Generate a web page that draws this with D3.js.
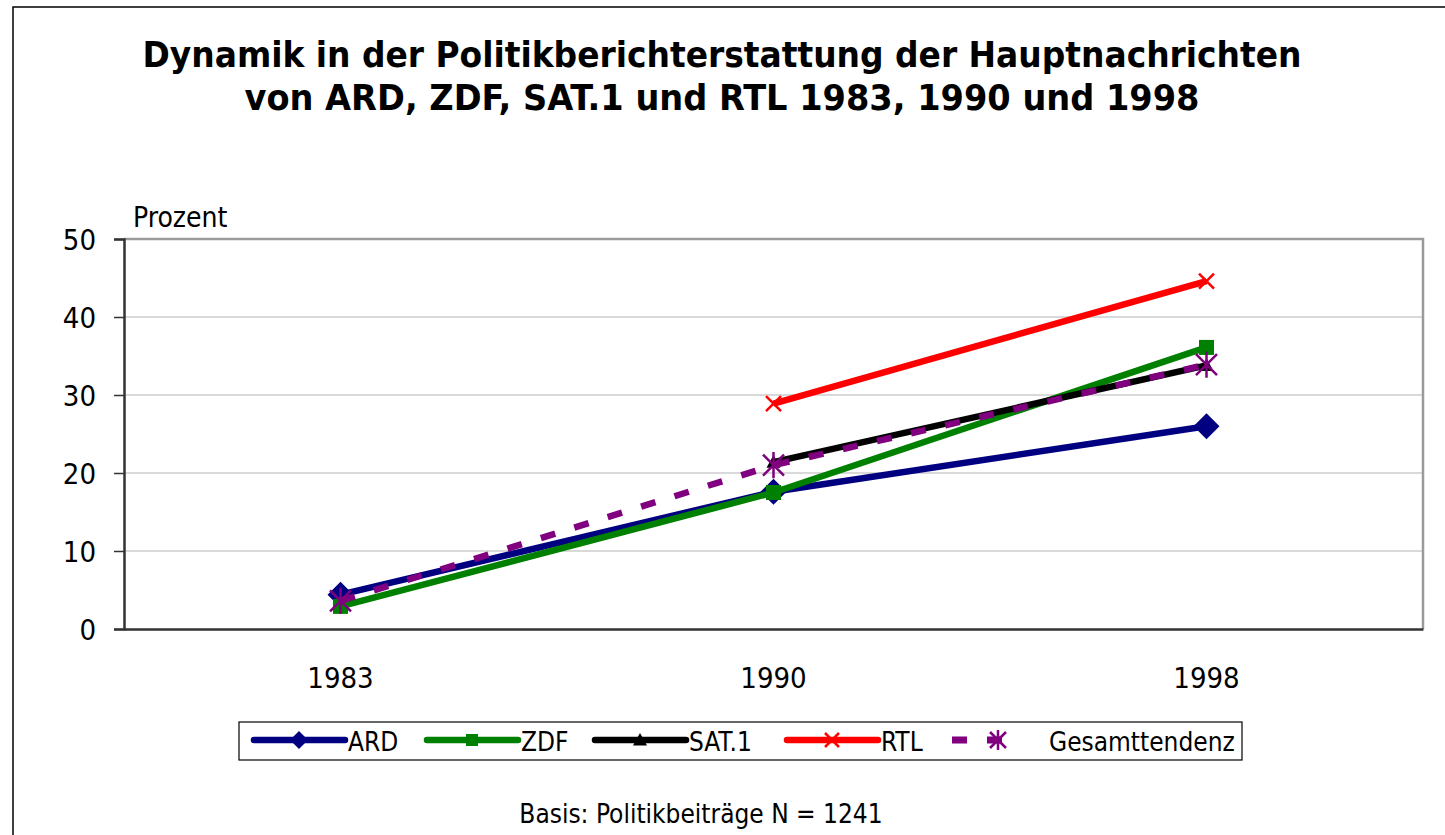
<!DOCTYPE html>
<html>
<head>
<meta charset="utf-8">
<script src="https://cdn.jsdelivr.net/npm/d3@7"></script>
<style>
  body { margin: 0; background: #fff; }
  text { font-family: Tahoma, "DejaVu Sans Condensed", "DejaVu Sans", sans-serif; fill: #000; }
</style>
</head>
<body>
<script>
// the data
var years = ["1983", "1990", "1998"];
var ard = [4.4, 17.6, 26.0];
var zdf = [2.9, 17.5, 36.1];
var sat1 = [null, 21.4, 33.8];
var rtl = [null, 28.9, 44.6];
var gesamt = [3.6, 21.0, 33.9];
var seriesNames = ["ARD", "ZDF", "SAT.1", "RTL", "Gesamttendenz"];
var yTicks = [0, 10, 20, 30, 40, 50];
var titleLines = ["Dynamik in der Politikberichterstattung der Hauptnachrichten",
                  "von ARD, ZDF, SAT.1 und RTL 1983, 1990 und 1998"];
var yLabel = "Prozent";
var footer = "Basis: Politikbeiträge N = 1241";

var W = 1445, H = 835;
var plot = {left: 124, top: 239, right: 1423, bottom: 629};

var svg = d3.select("body").append("svg")
    .attr("width", W)
    .attr("height", H);

// outer frame (runs off the right and bottom edge)
svg.append("rect")
    .attr("x", 13).attr("y", 7)
    .attr("width", 1600).attr("height", 1000)
    .attr("fill", "#fff").attr("stroke", "#000").attr("stroke-width", 1.5);

// title
svg.selectAll(".title")
    .data(titleLines)
    .enter().append("text")
    .attr("class", "title")
    .attr("x", 722)
    .attr("y", function(d, i) { return 67 + i * 43; })
    .attr("text-anchor", "middle")
    .attr("font-size", "35px")
    .attr("font-weight", "bold")
    .attr("textLength", function(d, i) { return i == 0 ? 1159 : 955; })
    .attr("lengthAdjust", "spacingAndGlyphs")
    .text(function(d) { return d; });

// scales
var x = d3.scaleBand()
    .domain(years)
    .range([plot.left, plot.right]);
var y = d3.scaleLinear()
    .domain([0, 50])
    .range([plot.bottom, plot.top]);

// grid lines
svg.selectAll(".grid")
    .data(yTicks.slice(1, -1))
    .enter().append("line")
    .attr("class", "grid")
    .attr("x1", plot.left).attr("x2", plot.right)
    .attr("y1", function(d) { return y(d); })
    .attr("y2", function(d) { return y(d); })
    .attr("stroke", "#b4b4b4").attr("stroke-width", 1.2);

// plot area border (top / right grey)
svg.append("path")
    .attr("d", "M" + plot.left + "," + plot.top + "H" + plot.right + "V" + plot.bottom)
    .attr("fill", "none").attr("stroke", "#9a9a9a").attr("stroke-width", 2.5);

// y axis
var yAxis = svg.append("g")
    .attr("transform", "translate(" + plot.left + ",0)")
    .call(d3.axisLeft(y).tickValues(yTicks).tickSize(10).tickPadding(18));
yAxis.select(".domain").attr("stroke", "#333").attr("stroke-width", 2.5);
yAxis.selectAll(".tick line").attr("stroke", "#333").attr("stroke-width", 1.5);
yAxis.selectAll(".tick text")
    .attr("font-family", null)
    .attr("font-size", "29px")
    .attr("dy", "0.36em");

// x axis
var xAxis = svg.append("g")
    .attr("transform", "translate(0," + plot.bottom + ")")
    .call(d3.axisBottom(x).tickSize(0).tickPadding(38));
xAxis.select(".domain").attr("stroke", "#333").attr("stroke-width", 2.5);
xAxis.selectAll(".tick text")
    .attr("font-family", null)
    .attr("font-size", "29px");

svg.selectAll(".domain").attr("fill", "none");
svg.selectAll(".tick text").attr("fill", "#000");

// y axis label
svg.append("text")
    .attr("x", 133).attr("y", 227)
    .attr("font-size", "28px")
    .text(yLabel);

// marker shapes
function markerPath(kind, s) {
    if (kind == "diamond") return "M0," + (-s) + "L" + s + ",0L0," + s + "L" + (-s) + ",0Z";
    if (kind == "square") return "M" + (-s) + "," + (-s) + "H" + s + "V" + s + "H" + (-s) + "Z";
    if (kind == "triangle") return "M0," + (-s) + "L" + s + "," + (s * 0.8) + "L" + (-s) + "," + (s * 0.8) + "Z";
    if (kind == "x") return "M" + (-s) + "," + (-s) + "L" + s + "," + s + "M" + s + "," + (-s) + "L" + (-s) + "," + s;
    if (kind == "star") return "M" + (-s) + "," + (-s) + "L" + s + "," + s + "M" + s + "," + (-s) + "L" + (-s) + "," + s +
        "M0," + (-s * 1.25) + "V" + (s * 1.25);
}

var series = [
    {name: seriesNames[0], values: ard, color: "#000080", marker: "diamond", size: 13, legSize: 9, filled: true},
    {name: seriesNames[1], values: zdf, color: "#008000", marker: "square", size: 7.5, legSize: 6, filled: true},
    {name: seriesNames[2], values: sat1, color: "#000000", marker: "triangle", size: 7, legSize: 7, filled: true},
    {name: seriesNames[3], values: rtl, color: "#ff0000", marker: "x", size: 7.5, legSize: 7, filled: false},
    {name: seriesNames[4], values: gesamt, color: "#800080", marker: "star", size: 10.5, legSize: 8, filled: false, dash: "15,20"}
];

var line = d3.line()
    .defined(function(d) { return d.v != null; })
    .x(function(d) { return x(d.year) + x.bandwidth() / 2; })
    .y(function(d) { return y(d.v); });

series.forEach(function(s) {
    var pts = years.map(function(yr, i) { return {year: yr, v: s.values[i]}; });
    var g = svg.append("g");
    g.append("path")
        .datum(pts)
        .attr("d", line)
        .attr("fill", "none")
        .attr("stroke", s.color)
        .attr("stroke-width", 6.5)
        .attr("stroke-dasharray", s.dash || null);
    g.selectAll(".mark")
        .data(pts.filter(function(d) { return d.v != null; }))
        .enter().append("path")
        .attr("transform", function(d) {
            return "translate(" + (x(d.year) + x.bandwidth() / 2) + "," + y(d.v) + ")";
        })
        .attr("d", markerPath(s.marker, s.size))
        .attr("fill", s.filled ? s.color : "none")
        .attr("stroke", s.color)
        .attr("stroke-width", s.filled ? 0 : 2.5);
});

// legend
var legend = svg.append("g");
legend.append("rect")
    .attr("x", 239).attr("y", 722)
    .attr("width", 1003).attr("height", 38)
    .attr("fill", "#fff").attr("stroke", "#000").attr("stroke-width", 1.2);

var legX = [254, 427, 595, 787, 952];
var legTextX = [348, 521, 689, 881, 1049];
var legY = 740;

series.forEach(function(s, i) {
    var x0 = legX[i];
    if (s.dash) {
        legend.append("line")
            .attr("x1", x0).attr("x2", x0 + 61)
            .attr("y1", legY).attr("y2", legY)
            .attr("stroke", s.color).attr("stroke-width", 7)
            .attr("stroke-dasharray", s.dash);
    } else {
        legend.append("line")
            .attr("x1", x0).attr("x2", x0 + 91)
            .attr("y1", legY).attr("y2", legY)
            .attr("stroke", s.color).attr("stroke-width", 6.5)
            .attr("stroke-linecap", "round");
    }
    legend.append("path")
        .attr("transform", "translate(" + (s.dash ? x0 + 46 : x0 + 45) + "," + legY + ")")
        .attr("d", markerPath(s.marker, s.legSize))
        .attr("fill", s.filled ? s.color : "none")
        .attr("stroke", s.color)
        .attr("stroke-width", s.filled ? 0 : 2.5);
    legend.append("text")
        .attr("x", legTextX[i]).attr("y", 751)
        .attr("font-size", "26px")
        .text(s.name);
});

// footer
svg.append("text")
    .attr("x", 701).attr("y", 823)
    .attr("text-anchor", "middle")
    .attr("font-size", "26px")
    .text(footer);
</script>
</body>
</html>
